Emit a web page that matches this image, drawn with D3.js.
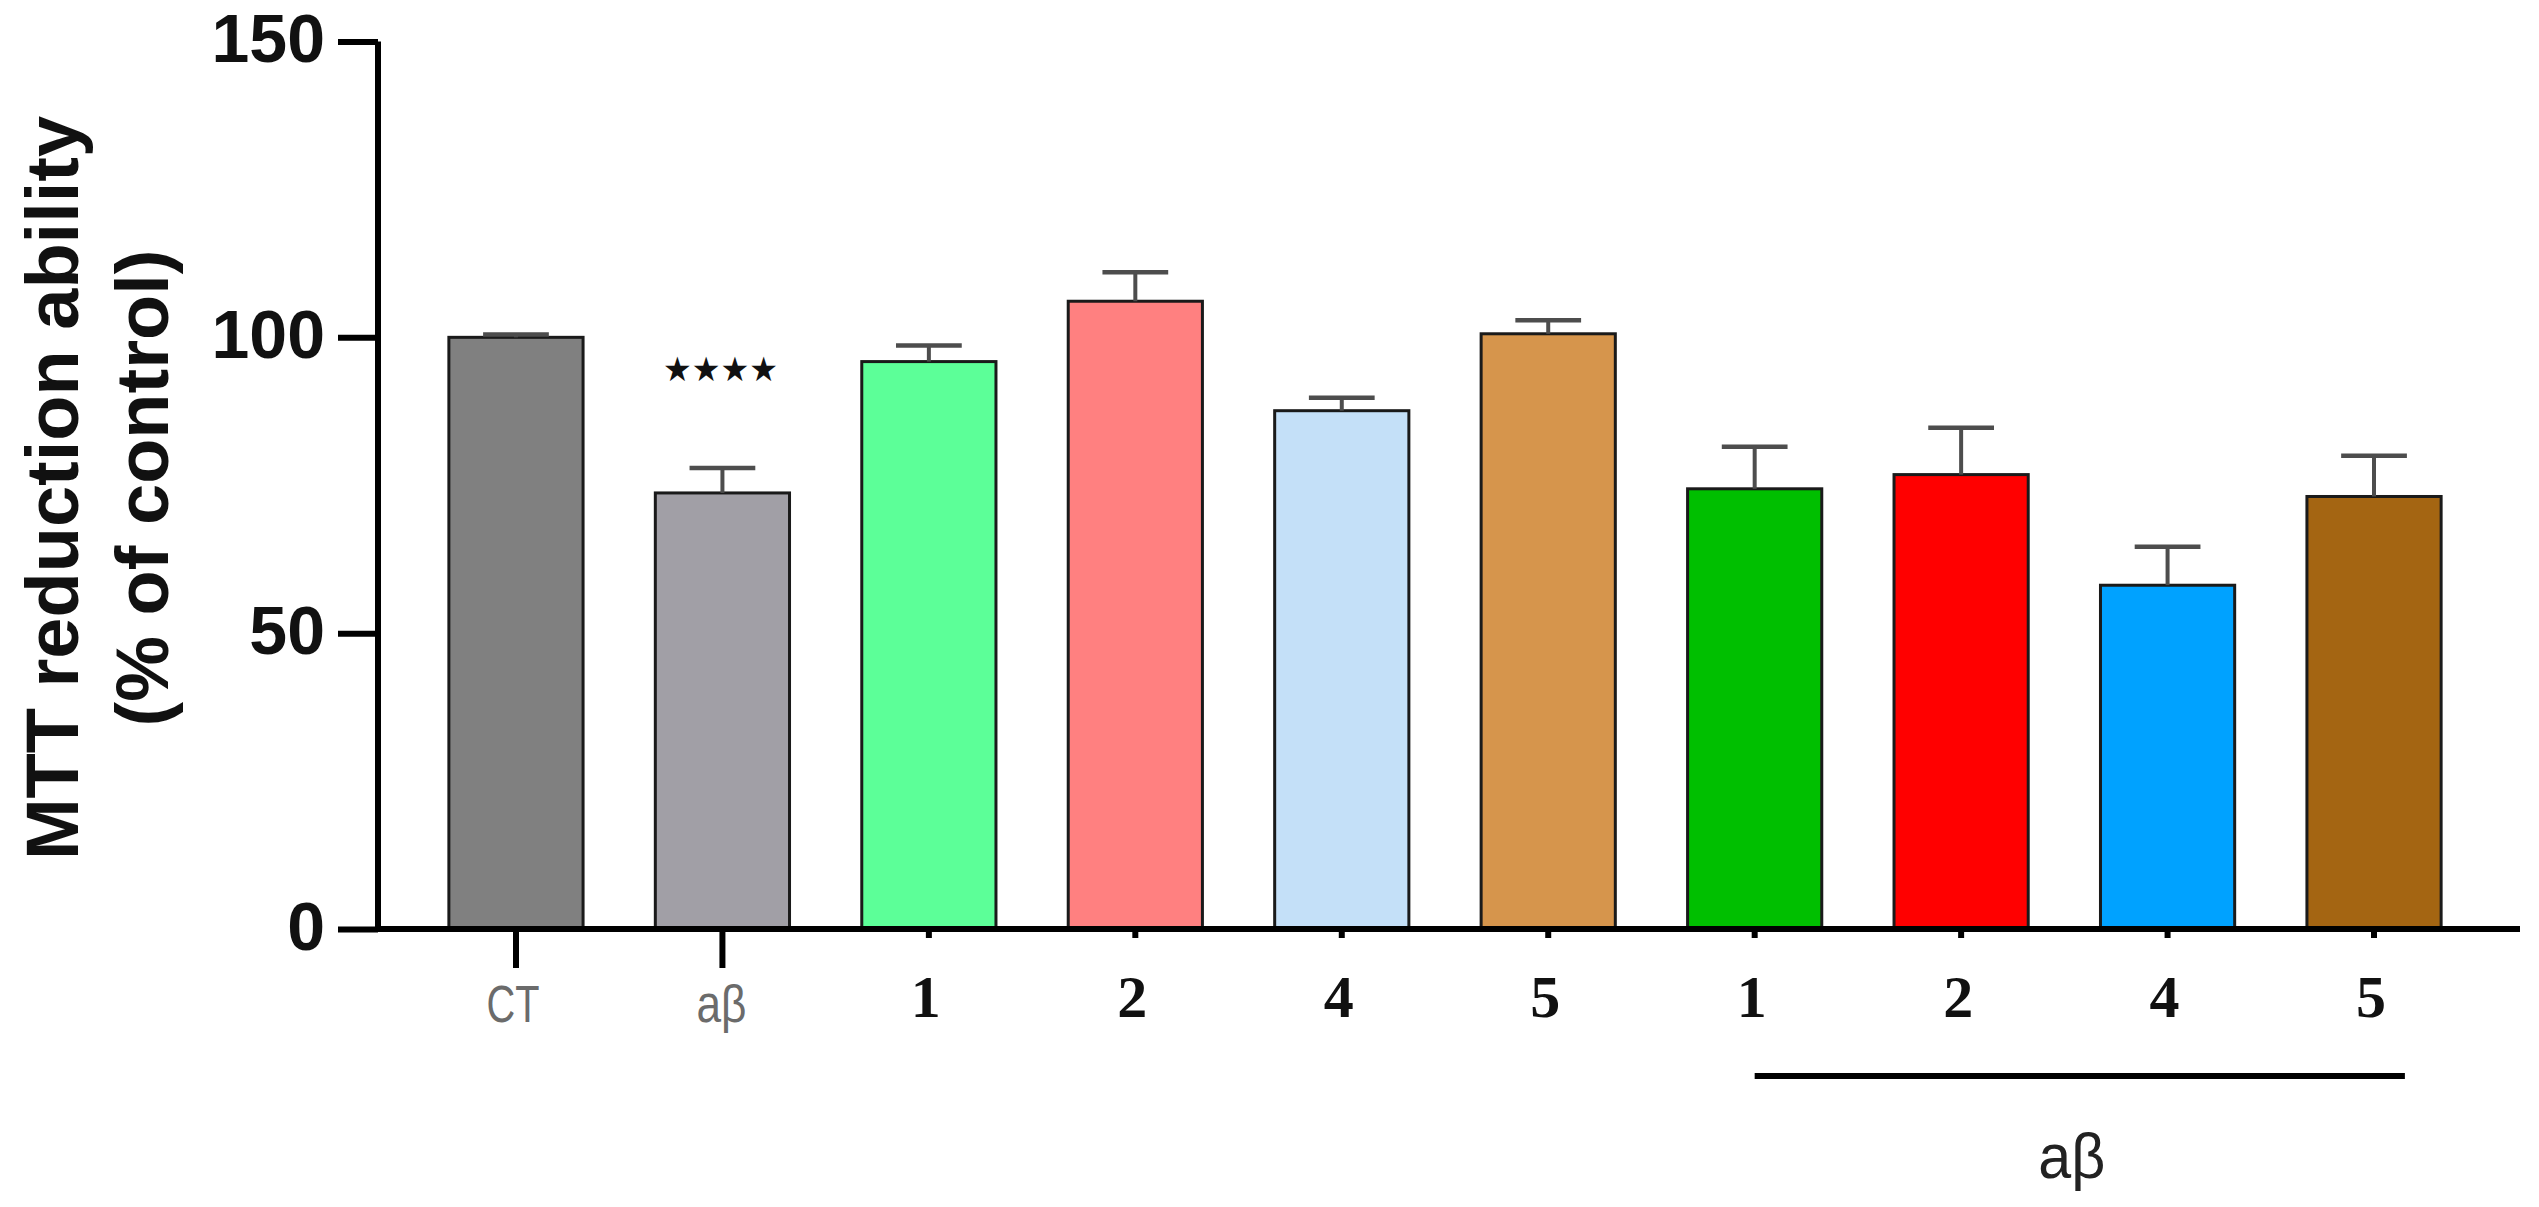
<!DOCTYPE html>
<html>
<head>
<meta charset="utf-8">
<script src="https://cdn.jsdelivr.net/npm/d3@7"></script>
<style>
  html, body { margin: 0; padding: 0; background: #ffffff; }
  svg { display: block; }
</style>
</head>
<body>
<svg id="chart" width="2539" height="1207"></svg>
<script>
// ---- data ----
const categories = ["CT", "aβ", "1", "2", "4", "5", "aβ+1", "aβ+2", "aβ+4", "aβ+5"];
const tickLabels = ["CT", "aβ", "1", "2", "4", "5", "1", "2", "4", "5"];
const means = [100, 73.7, 95.9, 106.1, 87.6, 100.6, 74.4, 76.8, 58.1, 73.1];
const errors = [0.5, 4.2, 2.7, 4.9, 2.2, 2.3, 7.1, 7.9, 6.5, 6.9];
const colors = ["#808080", "#a19fa6", "#5cff98", "#ff8080", "#c4e0f8", "#d6954c",
                "#00bf00", "#ff0000", "#00a2ff", "#a46512"];
const yTicks = [0, 50, 100, 150];
const yLabelLines = ["MTT reduction ability", "(% of control)"];
const significance = ["", "★★★★", "", "", "", "", "", "", "", ""];
const groupLabel = "aβ";

// ---- layout ----
const svg = d3.select("#chart");
const axisX = 378, baseY = 929, topY = 41.5, rightX = 2520;

const y = d3.scaleLinear().domain([0, 150]).range([baseY, topY]);
const x = d3.scaleBand().domain(categories).range([376, 2514])
  .paddingInner(0.35).paddingOuter(0.353);
const bw = x.bandwidth();

// bars
const g = svg.append("g");
g.selectAll("rect.bar").data(categories).join("rect")
  .attr("class", "bar")
  .attr("x", d => x(d))
  .attr("y", (d, i) => y(means[i]))
  .attr("width", bw)
  .attr("height", (d, i) => y(0) - y(means[i]))
  .attr("fill", (d, i) => colors[i])
  .attr("stroke", "#1a1a1a")
  .attr("stroke-width", 3);

// error bars (upper only)
const capW = bw * 0.49;
const eb = g.selectAll("g.err").data(categories).join("g").attr("class", "err");
eb.append("line")
  .attr("x1", d => x(d) + bw / 2).attr("x2", d => x(d) + bw / 2)
  .attr("y1", (d, i) => y(means[i])).attr("y2", (d, i) => y(means[i] + errors[i]))
  .attr("stroke", "#4d4d4d").attr("stroke-width", 4);
eb.append("line")
  .attr("x1", d => x(d) + bw / 2 - capW / 2).attr("x2", d => x(d) + bw / 2 + capW / 2)
  .attr("y1", (d, i) => y(means[i] + errors[i])).attr("y2", (d, i) => y(means[i] + errors[i]))
  .attr("stroke", "#4d4d4d").attr("stroke-width", 4.5);

// significance stars
g.selectAll("text.sig").data(categories.filter((d, i) => significance[i])).join("text")
  .attr("class", "sig")
  .attr("x", d => x(d) + bw / 2 - 2)
  .attr("y", d => { const i = categories.indexOf(d); return y(means[i] + errors[i]) - 87; })
  .attr("text-anchor", "middle")
  .attr("font-family", "DejaVu Sans")
  .attr("font-size", 34)
  .attr("fill", "#111")
  .attr("textLength", 115)
  .attr("lengthAdjust", "spacingAndGlyphs")
  .text(d => significance[categories.indexOf(d)]);

// y axis
const yAxis = d3.axisLeft(y).tickValues(yTicks).tickSize(40).tickPadding(13)
  .tickFormat(d3.format("d"));
const gy = svg.append("g").attr("transform", `translate(${axisX},0)`).call(yAxis);
gy.select(".domain").attr("stroke", "#000").attr("stroke-width", 6)
  .attr("d", `M0,${topY}V${baseY}`);
gy.selectAll(".tick line").attr("stroke", "#000").attr("stroke-width", 6);
gy.selectAll(".tick text")
  .attr("font-family", "Liberation Sans, Arial, sans-serif")
  .attr("font-weight", "bold")
  .attr("font-size", 68)
  .attr("fill", "#111")
  .attr("dy", "0.30em");

// x axis
const xAxis = d3.axisBottom(x).tickSize(0).tickPadding(0)
  .tickFormat((d, i) => tickLabels[i]);
const gx = svg.append("g").attr("transform", `translate(0,${baseY})`).call(xAxis);
gx.select(".domain").attr("stroke", "#000").attr("stroke-width", 6)
  .attr("d", `M${axisX - 3},0H${rightX}`);
gx.selectAll(".tick line")
  .attr("stroke", "#000").attr("stroke-width", 6)
  .attr("y2", (d, i) => i < 2 ? 39 : 9);
gx.selectAll(".tick text").each(function (d, i) {
  const t = d3.select(this);
  if (i < 2) {
    t.attr("font-family", "Liberation Sans, Arial, sans-serif")
      .attr("font-size", 51)
      .attr("fill", "#6b6b6b")
      .attr("y", 93).attr("dy", 0)
      .attr("x", i === 0 ? -3 : -1)
      .attr("textLength", i === 0 ? 53 : 50)
      .attr("lengthAdjust", "spacingAndGlyphs");
  } else {
    t.attr("font-family", "Liberation Serif, Times New Roman, serif")
      .attr("font-weight", "bold")
      .attr("font-size", 60)
      .attr("fill", "#111")
      .attr("y", 88).attr("dy", 0)
      .attr("x", -3);
  }
});

// group bracket for aβ-treated
const bx1 = x("aβ+1") + bw / 2;
const bx2 = x("aβ+5") + bw * 0.73;
svg.append("line")
  .attr("x1", bx1).attr("x2", bx2)
  .attr("y1", 1076).attr("y2", 1076)
  .attr("stroke", "#000").attr("stroke-width", 6);
svg.append("text")
  .attr("x", (bx1 + bx2) / 2 - 8)
  .attr("y", 1178)
  .attr("text-anchor", "middle")
  .attr("font-family", "Liberation Sans, Arial, sans-serif")
  .attr("font-size", 63)
  .attr("fill", "#222")
  .attr("textLength", 67)
  .attr("lengthAdjust", "spacingAndGlyphs")
  .text(groupLabel);

// y axis title
const ylab = svg.append("g");
[78, 168].forEach((bx, i) => {
  ylab.append("text")
    .attr("transform", `translate(${bx},${488}) rotate(-90)`)
    .attr("text-anchor", "middle")
    .attr("font-family", "Liberation Sans, Arial, sans-serif")
    .attr("font-weight", "bold")
    .attr("font-size", 74)
    .attr("fill", "#111")
    .text(yLabelLines[i]);
});
</script>
</body>
</html>
